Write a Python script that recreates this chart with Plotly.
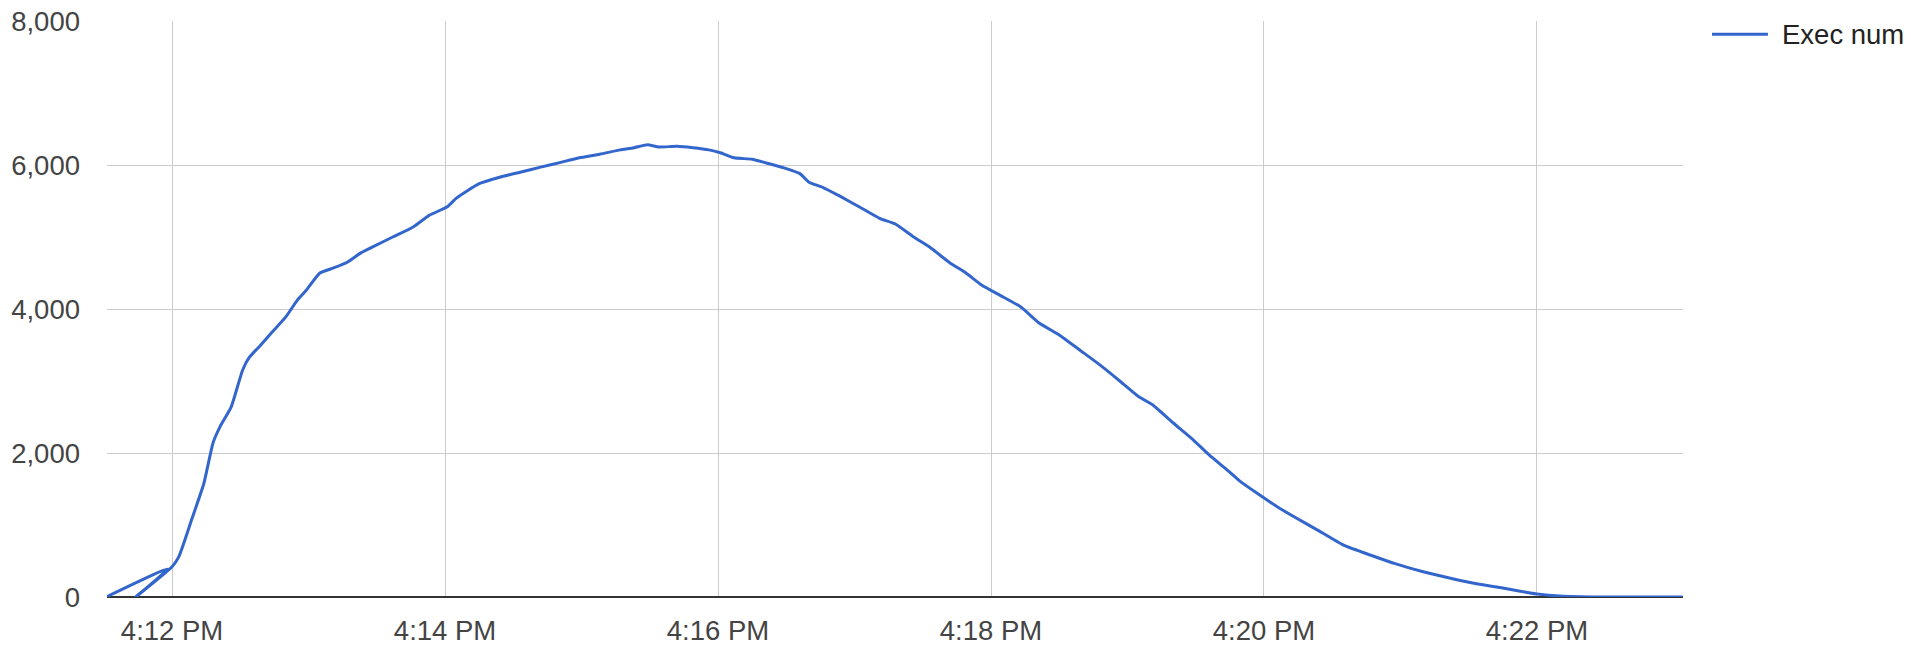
import plotly.graph_objects as go

DAY = "2024-01-01 "

# Time stamps (as logged; first three points are out of order in the source data)
times = [
    "16:11:31", "16:11:58", "16:11:44", "16:12:00", "16:12:03", "16:12:09", "16:12:14",
    "16:12:18", "16:12:21", "16:12:26", "16:12:31", "16:12:34", "16:12:39", "16:12:44",
    "16:12:50", "16:12:55", "16:12:59", "16:13:05", "16:13:11", "16:13:17", "16:13:23",
    "16:13:28", "16:13:37", "16:13:46", "16:13:53", "16:14:01", "16:14:05", "16:14:15",
    "16:14:24", "16:14:33", "16:14:42", "16:14:50", "16:14:59", "16:15:08", "16:15:17",
    "16:15:23", "16:15:29", "16:15:34", "16:15:42", "16:15:49", "16:15:56", "16:16:01",
    "16:16:07", "16:16:15", "16:16:21", "16:16:29", "16:16:36", "16:16:40", "16:16:46",
    "16:16:54", "16:17:02", "16:17:11", "16:17:18", "16:17:26", "16:17:33", "16:17:42",
    "16:17:49", "16:17:56", "16:18:04", "16:18:13", "16:18:21", "16:18:30", "16:18:39",
    "16:18:48", "16:18:57", "16:19:05", "16:19:11", "16:19:20", "16:19:29", "16:19:36",
    "16:19:44", "16:19:49", "16:19:57", "16:20:06", "16:20:14", "16:20:23", "16:20:35",
    "16:20:47", "16:20:58", "16:21:10", "16:21:22", "16:21:34", "16:21:45", "16:21:57",
    "16:22:00", "16:22:10", "16:22:28", "16:23:04",
]
exec_num = [
    0, 390, 0, 420, 560, 1110, 1580,
    2140, 2360, 2640, 3150, 3330, 3500, 3680,
    3890, 4120, 4260, 4500, 4570, 4650, 4780,
    4860, 5000, 5140, 5300, 5420, 5540, 5740,
    5830, 5900, 5970, 6030, 6100, 6150, 6210,
    6240, 6280, 6250, 6260, 6240, 6210, 6170,
    6100, 6080, 6030, 5960, 5880, 5760, 5690,
    5560, 5420, 5260, 5180, 5000, 4860, 4640,
    4500, 4330, 4190, 4030, 3810, 3640, 3430,
    3220, 2990, 2780, 2670, 2420, 2180, 1970,
    1760, 1620, 1440, 1250, 1100, 940, 720,
    580, 460, 350, 260, 180, 125, 56,
    42, 14, 0, 0,
]
series_name = "Exec num"
y_ticks = [0, 2000, 4000, 6000, 8000]

LINE_COLOR = "#3366cc"
FONT = "Liberation Sans, Arial, sans-serif"

fig = go.Figure()
fig.add_trace(go.Scatter(
    x=[DAY + t for t in times],
    y=exec_num,
    mode="lines",
    name=series_name,
    line=dict(color=LINE_COLOR, width=3, shape="spline", smoothing=0.5),
    showlegend=False,
))

# Legend drawn manually (long line sample as in the reference)
fig.add_shape(type="line", xref="paper", yref="paper",
              x0=1.0184, x1=1.0539, y0=0.977, y1=0.977,
              line=dict(color=LINE_COLOR, width=3))
fig.add_annotation(text=series_name, xref="paper", yref="paper",
                   x=1.0615, y=0.977, xanchor="left", yanchor="middle",
                   showarrow=False, font=dict(size=27.5, color="#222222", family=FONT))

fig.update_layout(
    width=1911, height=645,
    margin=dict(l=107, r=228, t=21, b=48, autoexpand=False),
    paper_bgcolor="white", plot_bgcolor="white",
    font=dict(family=FONT, size=27.5, color="#444444"),
    showlegend=False,
)
fig.update_xaxes(
    type="date",
    range=[DAY + "16:11:31.4", DAY + "16:23:04.2"],
    tick0=DAY + "16:12:00", dtick=120000,
    tickformat="%-I:%M %p",
    showgrid=True, gridcolor="#cccccc", gridwidth=1.2,
    zeroline=False, showline=False, ticks="",
    ticklabelstandoff=14,
    ticklabeloverflow="allow",
    automargin=False,
)
fig.update_yaxes(
    range=[0, 8000],
    tickvals=y_ticks,
    tickformat=",d",
    showgrid=True, gridcolor="#cccccc", gridwidth=1.2,
    zeroline=True, zerolinecolor="#333333", zerolinewidth=1.5,
    showline=False, ticks="",
    ticklabelstandoff=26,
    ticklabeloverflow="allow",
    automargin=False,
)

# remove the page's default 8px body margin so the figure fills the window exactly
fig.write_html("out.html", config={"displayModeBar": False},
               post_script="document.body.style.margin='0';")
